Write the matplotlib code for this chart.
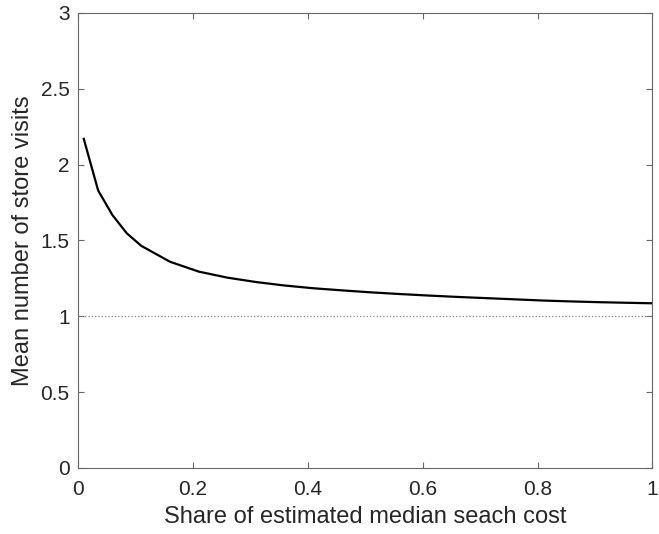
import matplotlib
matplotlib.use('Agg')
import matplotlib.pyplot as plt

plt.rcParams['font.family'] = ['Liberation Sans', 'DejaVu Sans']

share = [0.01, 0.035, 0.06, 0.085, 0.11, 0.16, 0.21, 0.26, 0.31, 0.36, 0.41,
         0.46, 0.51, 0.56, 0.61, 0.66, 0.71, 0.76, 0.81, 0.86, 0.91, 0.96, 1.0]
visits = [2.17, 1.83, 1.667, 1.547, 1.465, 1.36, 1.295, 1.255, 1.226, 1.203, 1.185,
          1.171, 1.158, 1.147, 1.137, 1.128, 1.12, 1.112, 1.104, 1.098, 1.093, 1.089, 1.086]

txt = '#262626'
fig = plt.figure(figsize=(6.59, 5.34), dpi=100)
ax = fig.add_axes([0.1184, 0.1236, 0.8716, 0.8521])

ax.plot([0, 1], [1, 1], linestyle=':', color='#888888', linewidth=0.9)
ax.plot(share, visits, color='black', linewidth=1.6)

ax.set_xlim(0, 1)
ax.set_ylim(0, 3)
ax.set_xticks([0, 0.2, 0.4, 0.6, 0.8, 1])
ax.set_xticklabels(['0', '0.2', '0.4', '0.6', '0.8', '1'])
ax.set_yticks([0, 0.5, 1, 1.5, 2, 2.5, 3])
ax.set_yticklabels(['0', '0.5', '1', '1.5', '2', '2.5', '3'])
ax.tick_params(direction='in', length=4.5, width=0.8, color='#666666', labelsize=15,
               labelcolor=txt, top=True, right=True)
ax.tick_params(axis='x', pad=9)
ax.tick_params(axis='y', pad=6)
for s in ax.spines.values():
    s.set_color('#666666')
    s.set_linewidth(0.8)

ax.set_xlabel('Share of estimated median seach cost', fontsize=17, color=txt, labelpad=5)
ax.set_ylabel('Mean number of store visits', fontsize=17, color=txt, labelpad=5)

fig.savefig('out.png', dpi=100)
